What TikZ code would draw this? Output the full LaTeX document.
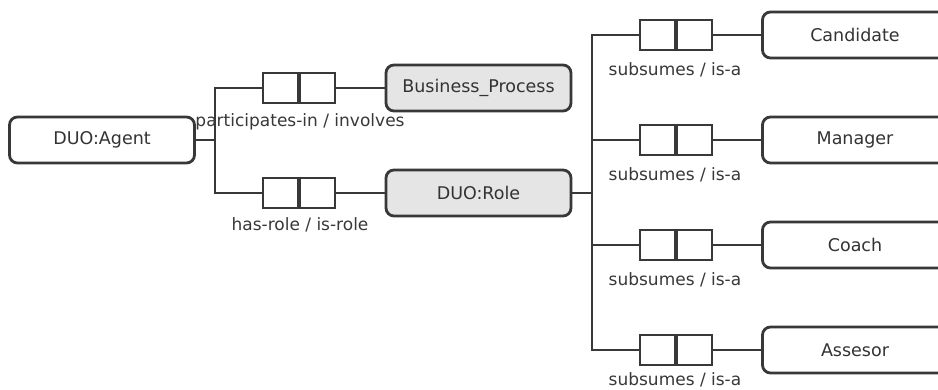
\documentclass[tikz,border=0pt]{standalone}
\usepackage{fontspec}
\setmainfont{DejaVu Sans}
\begin{document}
\begin{tikzpicture}[x=1pt,y=-1pt,
  ink/.style={draw=black!78},
  entity/.style={ink, line width=2.8pt, rounded corners=8pt, minimum width=185pt,
    minimum height=46pt, inner sep=0pt, text=black!80, font=\fontsize{17.5}{19}\selectfont},
  concept/.style={entity, fill=black!10},
  relbox/.style={ink, line width=2.8pt, fill=white, minimum width=72pt, minimum height=30pt, inner sep=0pt},
  divider/.style={ink, line width=4.5pt},
  link/.style={ink, line width=2.6pt},
  rellabel/.style={text=black!78, font=\fontsize{17}{19}\selectfont, inner sep=0pt}
]
\clip (0,0) rectangle (938,390);
\fill[white] (0,0) rectangle (938,390);

% entities
\node[entity]  (agent) at (102,140)  {DUO:Agent};
\node[concept] (bp)    at (478.5,88) {Business\_Process};
\node[concept] (role)  at (478.5,193) {DUO:Role};
\node[entity]  (cand)  at (855,35)  {Candidate};
\node[entity]  (mgr)   at (855,140) {Manager};
\node[entity]  (coach) at (855,245) {Coach};
\node[entity]  (ass)   at (855,350) {Assesor};

% relation boxes
\node[relbox] (rpart) at (299,88)  {};
\node[relbox] (rrole) at (299,193) {};
\node[relbox] (rs1) at (676,35)  {};
\node[relbox] (rs2) at (676,140) {};
\node[relbox] (rs3) at (676,245) {};
\node[relbox] (rs4) at (676,350) {};
\foreach \r in {rpart,rrole,rs1,rs2,rs3,rs4}
  \draw[divider] (\r.north) -- (\r.south);

% branch points
\coordinate (ja) at (215,140);
\coordinate (jr) at (592,193);

% connectors
\draw[link] (agent.east) -- (ja);
\draw[link] (ja) |- (rpart.west);
\draw[link] (ja) |- (rrole.west);
\draw[link] (rpart.east) -- (bp.west);
\draw[link] (rrole.east) -- (role.west);
\draw[link] (role.east) -- (jr);
\foreach \r/\e in {rs1/cand,rs2/mgr,rs3/coach,rs4/ass}{
  \draw[link] (jr) |- (\r.west);
  \draw[link] (\r.east) -- (\e.west);
}

% relation labels
\node[rellabel] (lpart) at (300,122) {participates-in / involves};
\node[rellabel] (lrole) at (300,225) {has-role / is-role};
\node[rellabel] (ls1) at (675,70)  {subsumes / is-a};
\node[rellabel] (ls2) at (675,175) {subsumes / is-a};
\node[rellabel] (ls3) at (675,280) {subsumes / is-a};
\node[rellabel] (ls4) at (675,380) {subsumes / is-a};
\end{tikzpicture}
\end{document}
